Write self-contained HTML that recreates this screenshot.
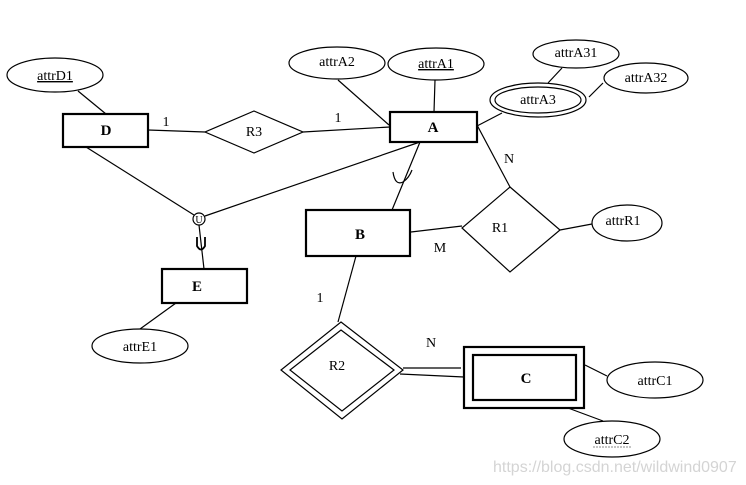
<!DOCTYPE html>
<html><head><meta charset="utf-8"><style>
html,body{margin:0;padding:0;background:#fff;}
svg{display:block;}
text{font-family:"Liberation Serif",serif;font-size:14px;fill:#000;}
.b{font-weight:bold;font-size:15px;}
</style></head><body>
<svg width="746" height="485" viewBox="0 0 746 485" xmlns="http://www.w3.org/2000/svg">
<g stroke="#000" stroke-width="1.2" fill="none">
<line x1="78" y1="91" x2="106" y2="114"/>
<line x1="148" y1="130" x2="205" y2="132"/>
<line x1="303" y1="132" x2="390" y2="127"/>
<line x1="86" y1="147" x2="194" y2="215"/>
<line x1="205" y1="216" x2="420" y2="142"/>
<line x1="199" y1="225" x2="204" y2="269"/>
<line x1="176" y1="303" x2="140" y2="329"/>
<line x1="338" y1="80" x2="389" y2="125"/>
<line x1="435" y1="80" x2="434" y2="112"/>
<line x1="477" y1="126" x2="502" y2="113"/>
<line x1="562" y1="68" x2="548" y2="83"/>
<line x1="603" y1="83" x2="589" y2="97"/>
<line x1="477" y1="125" x2="510" y2="187"/>
<line x1="420" y1="142" x2="392" y2="210"/>
<line x1="411" y1="232" x2="462" y2="226"/>
<line x1="560" y1="230" x2="592" y2="224"/>
<line x1="356" y1="256" x2="338" y2="322"/>
<line x1="403" y1="368" x2="461" y2="368"/>
<line x1="400" y1="374" x2="464" y2="377"/>
<line x1="585" y1="365" x2="607" y2="376"/>
<line x1="568" y1="408" x2="603" y2="421"/>
<path d="M393,172 Q395,186 403,182 Q409,178 412,170"/>
<path d="M197,237 L197,246 Q201,253 205,246 L205,237" stroke-width="1.8"/>
<circle cx="199" cy="219" r="6" fill="#fff"/>
<ellipse cx="55" cy="75" rx="48" ry="17"/>
<ellipse cx="337" cy="63" rx="48" ry="16"/>
<ellipse cx="436" cy="64" rx="48" ry="16"/>
<ellipse cx="538" cy="100" rx="48" ry="17"/>
<ellipse cx="538" cy="100" rx="43" ry="13"/>
<ellipse cx="576" cy="54" rx="43" ry="14"/>
<ellipse cx="646" cy="78" rx="42" ry="15"/>
<ellipse cx="627" cy="223" rx="35" ry="18"/>
<ellipse cx="140" cy="346" rx="48" ry="17"/>
<ellipse cx="655" cy="380" rx="48" ry="18"/>
<ellipse cx="612" cy="439" rx="48" ry="18"/>
<polygon points="254,111 303,132 254,153 205,132"/>
<polygon points="510,187 560,230 510,272 462,228"/>
<polygon points="341,322 403,370 342,419 281,370"/>
<polygon points="341,330 394,370 342,411 290,370"/>
</g>
<g stroke="#000" stroke-width="2.2" fill="#fff">
<rect x="63" y="114" width="85" height="33"/>
<rect x="390" y="112" width="87" height="30"/>
<rect x="306" y="210" width="104" height="46"/>
<rect x="162" y="269" width="85" height="34"/>
<rect x="464" y="347" width="120" height="61"/>
<rect x="473" y="355" width="103" height="45"/>
</g>
<g text-anchor="middle">
<text x="55" y="80" text-decoration="underline">attrD1</text>
<text x="337" y="66">attrA2</text>
<text x="436" y="68" text-decoration="underline">attrA1</text>
<text x="538" y="104">attrA3</text>
<text x="576" y="57">attrA31</text>
<text x="646" y="82">attrA32</text>
<text x="623" y="225">attrR1</text>
<text x="140" y="351">attrE1</text>
<text x="655" y="385">attrC1</text>
<text x="612" y="444">attrC2</text>
<text x="254" y="136">R3</text>
<text x="500" y="232">R1</text>
<text x="337" y="370">R2</text>
<text class="b" x="106" y="135">D</text>
<text class="b" x="433" y="132">A</text>
<text class="b" x="360" y="239">B</text>
<text class="b" x="197" y="291">E</text>
<text class="b" x="526" y="383">C</text>
<text x="166" y="126">1</text>
<text x="338" y="122">1</text>
<text x="509" y="163">N</text>
<text x="440" y="252">M</text>
<text x="320" y="302">1</text>
<text x="431" y="347">N</text>
<text x="199" y="223" style="font-size:10px">U</text>
</g>
<line x1="593" y1="447" x2="631" y2="447" stroke="#888" stroke-width="1" stroke-dasharray="2,1"/>
<text x="493" y="472" style="font-family:'Liberation Sans',sans-serif;font-size:16px;fill:#d4d4d4">https://blog.csdn.net/wildwind0907</text>
</svg>
</body></html>
